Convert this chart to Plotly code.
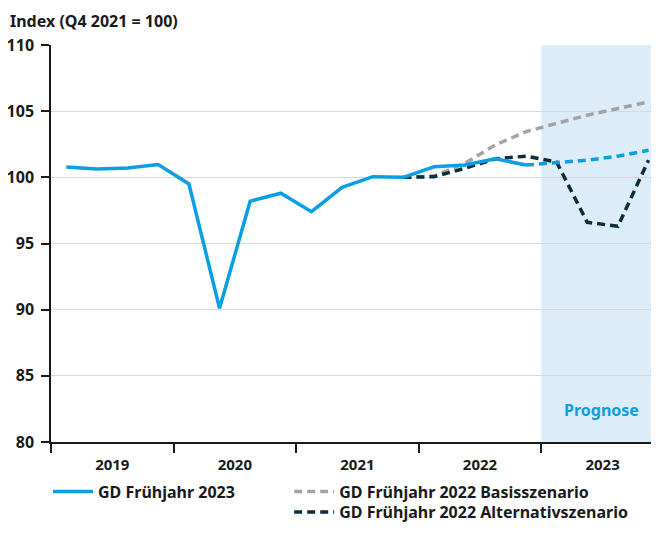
import plotly.graph_objects as go

quarters = [f"Q{q} {y}" for y in range(2019, 2024) for q in range(1, 5)]
idx = list(range(len(quarters)))

# GD Frühjahr 2023 (actual up to Q4 2022, forecast 2023)
gd2023 = [100.78, 100.63, 100.7, 100.97, 99.5, 90.1, 98.2, 98.8, 97.4, 99.25, 100.05, 100.0,
          100.8, 100.93, 101.4, 100.93]
gd2023_forecast = [100.93, 101.1, 101.3, 101.6, 102.05]
# GD Frühjahr 2022 scenarios, from Q4 2021
basis2022 = [100.0, 100.1, 101.05, 102.45, 103.45, 104.1, 104.7, 105.2, 105.7]
alt2022 = [100.0, 100.05, 100.68, 101.4, 101.6, 101.15, 96.6, 96.3, 101.3]

years = ["2019", "2020", "2021", "2022", "2023"]
year_centers = [1.5, 5.5, 9.5, 13.5, 17.5]
year_bounds = [-0.5, 3.5, 7.5, 11.5, 15.5]
yticks = [80, 85, 90, 95, 100, 105, 110]

BLUE = "#0a9fe2"
GRAY = "#a3a3a3"
NAVY = "#0c2d40"
SHADE = "#dcedf9"
FONT = "Noto Sans"
X_END = 19.08

fig = go.Figure()
fig.add_trace(go.Scatter(x=idx[11:], y=basis2022, mode="lines", name="GD Frühjahr 2022 Basisszenario",
                         line=dict(color=GRAY, width=3.5, dash="8px,5px"), legend="legend2"))
fig.add_trace(go.Scatter(x=idx[11:], y=alt2022, mode="lines", name="GD Frühjahr 2022 Alternativszenario",
                         line=dict(color=NAVY, width=3.5, dash="8px,5px"), legend="legend3"))
fig.add_trace(go.Scatter(x=idx[15:], y=gd2023_forecast, mode="lines", showlegend=False,
                         line=dict(color=BLUE, width=3.5, dash="8px,5px")))
fig.add_trace(go.Scatter(x=idx[:16], y=gd2023, mode="lines", name="GD Frühjahr 2023",
                         line=dict(color=BLUE, width=3.5), legend="legend"))

fig.add_shape(type="rect", xref="x", yref="paper", x0=15.5, x1=X_END, y0=0, y1=1,
              fillcolor=SHADE, line=dict(width=0), layer="below")

fig.add_annotation(x=17.45, y=82.4, xref="x", yref="y", text="Prognose", showarrow=False,
                   font=dict(family=FONT, size=16, color=BLUE, weight="bold"))
fig.add_annotation(x=0, y=1, xref="paper", yref="paper", xanchor="left", yanchor="top",
                   xshift=-43, yshift=37, text="Index (Q4 2021 = 100)", showarrow=False,
                   font=dict(family=FONT, size=16, color="#1a1a1a", weight="bold"))

leg_common = dict(xanchor="left", yanchor="top", orientation="v", font=dict(size=16),
                  bgcolor="rgba(0,0,0,0)", tracegroupgap=0, itemwidth=40)

fig.update_layout(
    width=643, height=517,
    margin=dict(l=43, r=0, t=37, b=83, autoexpand=False),
    paper_bgcolor="white", plot_bgcolor="white",
    font=dict(family=FONT, size=16, color="#1a1a1a", weight="bold"),
    xaxis=dict(range=[-0.5, X_END], tickmode="array", tickvals=year_centers, ticktext=years,
               ticks="", showgrid=False, showline=True, linecolor="#1a1a1a", linewidth=1.5,
               tickfont=dict(size=15), zeroline=False, ticklabelstandoff=8,
               minor=dict(tickmode="array", tickvals=year_bounds, ticks="outside", ticklen=9,
                          tickcolor="#1a1a1a", tickwidth=1.5, showgrid=False)),
    yaxis=dict(range=[80, 110], tickmode="array", tickvals=yticks, ticks="outside", ticklen=8,
               tickcolor="#1a1a1a", tickwidth=1.5, showgrid=True, gridcolor="#d9d9d9", gridwidth=1.2,
               showline=True, linecolor="#1a1a1a", linewidth=1.5, zeroline=False,
               tickfont=dict(size=16), ticklabelstandoff=4),
    legend=dict(x=-0.005, y=-0.082, **leg_common),
    legend2=dict(x=0.397, y=-0.082, **leg_common),
    legend3=dict(x=0.397, y=-0.134, **leg_common),
)

fig.write_html("out.html")
